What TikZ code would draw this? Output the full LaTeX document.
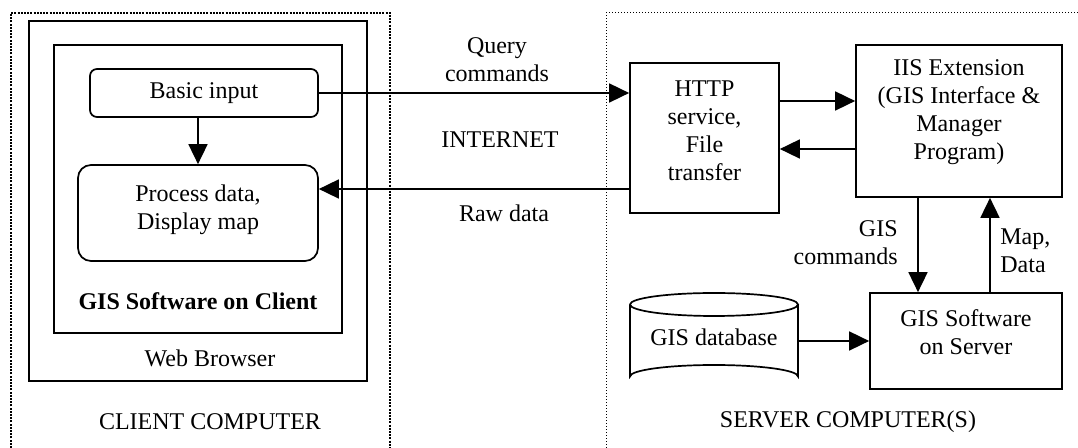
\documentclass[tikz,border=0pt]{standalone}
\usepackage{fontspec}
\setmainfont{Liberation Serif}
\usetikzlibrary{arrows.meta}
\begin{document}
\begin{tikzpicture}[x=0.5pt,y=-0.5pt,
  font=\fontsize{12}{14}\selectfont,
  box/.style={draw,line width=0.85pt,inner sep=0pt},
  rbox/.style={box,rounded corners=3.5pt},
  txt/.style={inner sep=0pt,align=center},
  arr/.style={line width=0.85pt,-{Triangle[length=10pt,width=9.5pt]}},
  cdot/.style={line width=1pt,dash pattern=on 1pt off 0.6pt},
  sdot/.style={line width=0.5pt,dash pattern=on 0.5pt off 1pt}]
\useasboundingbox (0,0) rectangle (1078,448);
% dotted computer frames
\draw[cdot] (11,448) -- (11,13) -- (390,13) -- (390,448);
\draw[sdot] (606,448) -- (606,13) -- (1078,13);
% client side
\node[box,minimum width=169pt,minimum height=180pt] (web) at (198,201) {};
\node[box,minimum width=144pt,minimum height=144pt] (gisc) at (198,189) {};
\node[rbox,minimum width=114pt,minimum height=24pt] (basic) at (204,93) {Basic input};
\node[box,rounded corners=6.5pt,minimum width=120pt,minimum height=48pt] (proc) at (198,213) {};
\node[txt] (proct) at (198,210) {Process data,\\Display map};
\node[txt,font=\fontsize{12}{14}\selectfont\bfseries] (giscl) at (198,301) {GIS Software on Client};
\node[txt] (webl) at (210,358) {Web Browser};
\node[txt] (clientl) at (210,422) {CLIENT COMPUTER};
% server side
\node[box,minimum width=74.5pt,minimum height=75pt] (http) at (704.5,138) {};
\node[txt] (httpt) at (704.5,130.5) {HTTP\\service,\\File\\transfer};
\node[box,minimum width=103pt,minimum height=76pt] (iis) at (959,121) {};
\node[txt] (iist) at (959,112.5) {IIS Extension\\(GIS Interface \&\\Manager\\Program)};
\node[box,minimum width=96pt,minimum height=48pt] (gsrv) at (966,341) {};
\node[txt] (gsrvt) at (966,332.5) {GIS Software\\on Server};
% database cylinder
\node[inner sep=0pt,minimum width=84pt,minimum height=47.5pt] (db) at (714,340.5) {};
\draw[line width=0.85pt] (630,304.5) arc[start angle=180,end angle=-180,x radius=84,y radius=11.5]
  (630,304.5) -- (630,376.5) arc[start angle=180,end angle=360,x radius=84,y radius=11.5] -- (798,304.5);
\node[txt] (dbt) at (714,337) {GIS database};
\node[txt] (serverl) at (848,422) {SERVER COMPUTER(S)};
% labels
\node[txt] (queryl) at (497,60) {Query\\commands};
\node[txt] (inetl) at (500,140) {INTERNET};
\node[txt] (rawl) at (504,213) {Raw data};
\node[txt,align=right,anchor=east] (gcmdl) at (898,243) {GIS\\commands};
\node[txt,align=left,anchor=west] (mapl) at (1000,251) {Map,\\Data};
% connectors
\coordinate (rawy) at (0,189);
\coordinate (h2i) at (0,101);
\coordinate (i2h) at (0,149);
\coordinate (gx) at (918,0);
\coordinate (mx) at (990,0);
\coordinate (dby) at (0,341);
\draw[arr] (basic.south -| proc.north) -- (proc.north);
\draw[arr] (basic.east) -- (basic.east -| http.west);
\draw[arr] (http.west |- rawy) -- (proc.east |- rawy);
\draw[arr] (http.east |- h2i) -- (iis.west |- h2i);
\draw[arr] (iis.west |- i2h) -- (http.east |- i2h);
\draw[arr] (iis.south -| gx) -- (gsrv.north -| gx);
\draw[arr] (gsrv.north -| mx) -- (iis.south -| mx);
\draw[arr] (db.east |- dby) -- (gsrv.west |- dby);
\end{tikzpicture}
\end{document}
